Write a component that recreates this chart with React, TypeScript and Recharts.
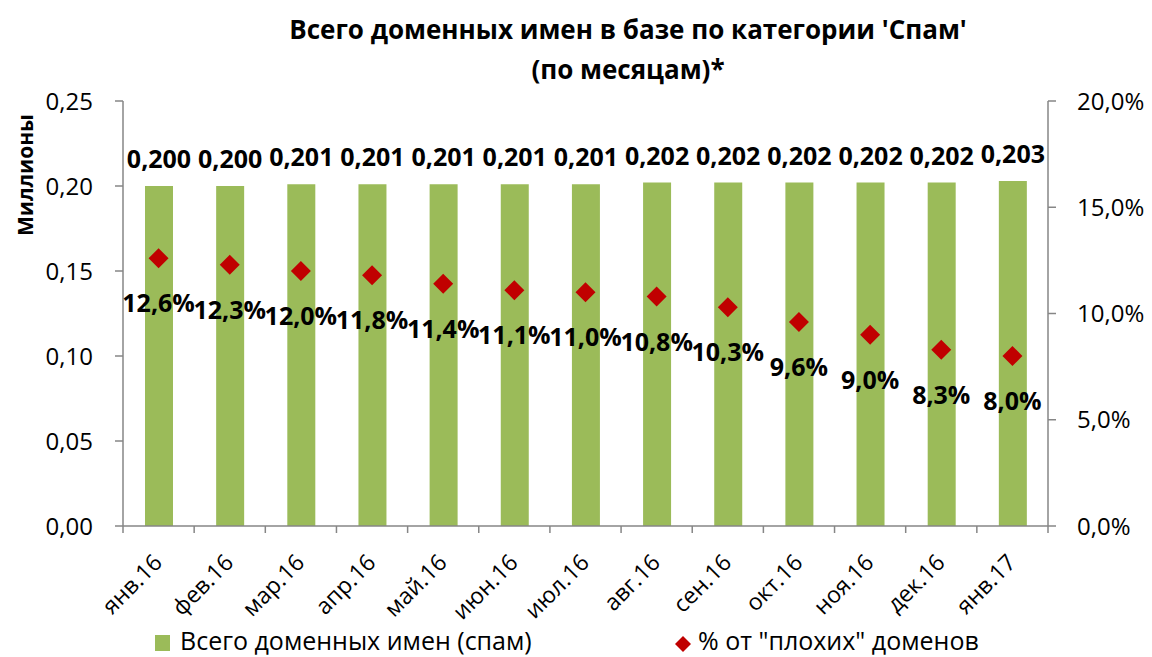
import React from "react";
import { ComposedChart, Bar, Line, XAxis, YAxis, LabelList } from "recharts";

const months = ["янв.16", "фев.16", "мар.16", "апр.16", "май.16", "июн.16", "июл.16", "авг.16", "сен.16", "окт.16", "ноя.16", "дек.16", "янв.17"];
const totals = [0.2, 0.2, 0.201, 0.201, 0.201, 0.201, 0.201, 0.202, 0.202, 0.202, 0.202, 0.202, 0.203];
const badShare = [12.6, 12.3, 12.0, 11.8, 11.4, 11.1, 11.0, 10.8, 10.3, 9.6, 9.0, 8.3, 8.0];
const leftTicks = [0, 0.05, 0.1, 0.15, 0.2, 0.25];
const rightTicks = [0, 5, 10, 15, 20];

const data = months.map((m, i) => ({ month: m, total: totals[i], share: badShare[i] }));

const W = 1152;
const H = 657;
const LEFT_W = 123;
const RIGHT_W = 104;
const FONT = "'Open Sans', sans-serif";
const AXIS = "#868686";
const GREEN = "#9BBB59";
const RED = "#C00000";

const band = (W - LEFT_W - RIGHT_W) / months.length;

const comma = (s: string) => s.replace(".", ",");

function MonthTick(props: any) {
  const { x, y, payload, index } = props;
  return (
    <g>
      <line x1={x - band / 2} x2={x - band / 2} y1={y} y2={y + 7} stroke={AXIS} strokeWidth={1.5} />
      {index === months.length - 1 && (
        <line x1={x + band / 2} x2={x + band / 2} y1={y} y2={y + 7} stroke={AXIS} strokeWidth={1.5} />
      )}
      <text
        x={x + 5}
        y={y + 38}
        transform={`rotate(-45, ${x + 5}, ${y + 38})`}
        textAnchor="end"
        fontSize={23}
        fill="#000"
      >
        {payload.value}
      </text>
    </g>
  );
}

function Diamond(props: any) {
  const { cx, cy } = props;
  if (cx == null || cy == null) return null;
  const r = 10;
  return <path d={`M${cx},${cy - r}L${cx + r},${cy}L${cx},${cy + r}L${cx - r},${cy}Z`} fill={RED} />;
}

function ShareLabel(props: any) {
  const { x, y, value } = props;
  return (
    <text x={x} y={y + 54} textAnchor="middle" fontSize={25} fontWeight="bold" fill="#000">
      {comma(Number(value).toFixed(1)) + "%"}
    </text>
  );
}

export default function App() {
  return (
    <div style={{ position: "absolute", left: 0, top: 0, width: W, height: H, background: "#fff", fontFamily: FONT }}>
      <div
        style={{
          position: "absolute",
          left: 0,
          width: 1256,
          top: 9,
          textAlign: "center",
          fontWeight: "bold",
          fontSize: 26,
          lineHeight: "40px",
          color: "#000",
        }}
      >
        Всего доменных имен в базе по категории 'Спам'
        <br />
        (по месяцам)*
      </div>
      <div
        style={{
          position: "absolute",
          left: 25,
          top: 175,
          transform: "translate(-50%, -50%) rotate(-90deg)",
          fontWeight: "bold",
          fontSize: 21,
          whiteSpace: "nowrap",
        }}
      >
        Миллионы
      </div>
      <ComposedChart width={W} height={H} data={data} margin={{ top: 101, right: 0, left: 0, bottom: 36 }} barCategoryGap={0}>
        <XAxis
          dataKey="month"
          interval={0}
          height={95}
          tickSize={0}
          tickMargin={0}
          tickLine={false}
          tick={<MonthTick />}
          axisLine={{ stroke: AXIS, strokeWidth: 1.5 }}
        />
        <YAxis
          yAxisId="left"
          width={LEFT_W}
          domain={[0, 0.25]}
          ticks={leftTicks}
          tickFormatter={(v: number) => comma(v.toFixed(2))}
          tick={{ fill: "#000", fontSize: 24 }}
          tickSize={8}
          tickMargin={22}
          axisLine={{ stroke: AXIS, strokeWidth: 1.5 }}
          tickLine={{ stroke: AXIS, strokeWidth: 1.5 }}
        />
        <YAxis
          yAxisId="right"
          orientation="right"
          width={RIGHT_W}
          domain={[0, 20]}
          ticks={rightTicks}
          tickFormatter={(v: number) => comma(v.toFixed(1)) + "%"}
          tick={{ fill: "#000", fontSize: 24, textAnchor: "start" }}
          tickSize={8}
          tickMargin={21}
          axisLine={{ stroke: AXIS, strokeWidth: 1.5 }}
          tickLine={{ stroke: AXIS, strokeWidth: 1.5 }}
        />
        <Bar yAxisId="left" dataKey="total" fill={GREEN} barSize={28} isAnimationActive={false}>
          <LabelList
            dataKey="total"
            position="top"
            offset={18}
            formatter={(v: any) => comma(Number(v).toFixed(3))}
            style={{ fontSize: 25, fontWeight: "bold", fill: "#000" }}
          />
        </Bar>
        <Line
          yAxisId="right"
          dataKey="share"
          stroke="none"
          dot={<Diamond />}
          activeDot={false}
          isAnimationActive={false}
        >
          <LabelList dataKey="share" content={<ShareLabel />} />
        </Line>
      </ComposedChart>
      <div style={{ position: "absolute", left: 155, top: 635, width: 15, height: 16, background: GREEN }} />
      <div style={{ position: "absolute", left: 180, top: 627, fontSize: 25, lineHeight: "26px", whiteSpace: "nowrap" }}>
        Всего доменных имен (спам)
      </div>
      <svg style={{ position: "absolute", left: 675, top: 636 }} width={16} height={16}>
        <path d="M8,0L16,8L8,16L0,8Z" fill={RED} />
      </svg>
      <div style={{ position: "absolute", left: 698, top: 627, fontSize: 25, lineHeight: "26px", whiteSpace: "nowrap" }}>
        % от "плохих" доменов
      </div>
    </div>
  );
}
